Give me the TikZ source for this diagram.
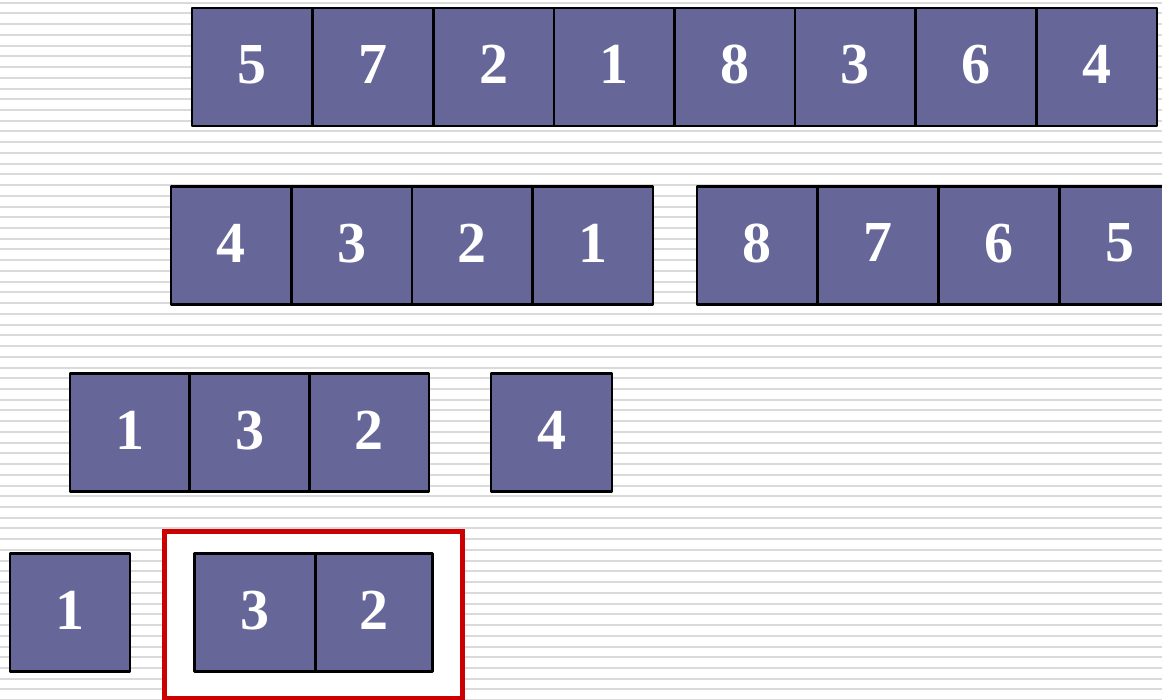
\documentclass[tikz,border=0pt]{standalone}
\usepackage{fontspec}
\setmainfont{Liberation Serif}
\definecolor{cellfill}{RGB}{102,102,153}
\definecolor{stripe}{RGB}{218,218,218}
\definecolor{framered}{RGB}{204,0,0}
\begin{document}
\begin{tikzpicture}[x=1pt,y=-1pt,
  cell/.style={draw=black, line width=2.6pt, fill=cellfill, text=white,
    font=\fontsize{58}{60}\selectfont\bfseries, inner sep=0pt,
    minimum height=118pt, text depth=5pt, line join=round},
  frame/.style={draw=framered, line width=5pt, fill=white, inner sep=0pt}]
\useasboundingbox (0,0) rectangle (1162,699);
\clip (0,0) rectangle (1162,699);
\fill[white] (0,0) rectangle (1162,699);
\foreach \i in {0,...,65}
  \draw[stripe, line width=2pt] (0,2.7+10.73*\i) -- (1162,2.7+10.73*\i);
% row 1
\foreach \v [count=\k from 0] in {5,7,2,1,8,3,6,4}
  \node[cell, minimum width=120.6pt] (a\k) at (192+60.3+120.6*\k,67) {\v};
% row 2
\foreach \v [count=\k from 0] in {4,3,2,1}
  \node[cell, minimum width=120.5pt] (b\k) at (171+60.25+120.5*\k,245.5) {\v};
\foreach \v [count=\k from 0] in {8,7,6,5}
  \node[cell, minimum width=120.75pt] (c\k) at (697+60.4+120.75*\k,245.5) {\v};
% row 3
\foreach \v [count=\k from 0] in {1,3,2}
  \node[cell, minimum width=119.7pt] (d\k) at (70+59.85+119.7*\k,432.5) {\v};
\node[cell, minimum width=121pt] (e0) at (551.5,432.5) {4};
% row 4
\node[cell, minimum width=120pt] (f0) at (70,612.5) {1};
\node[frame, minimum width=298pt, minimum height=167pt] (box) at (313,614.5) {};
\node[cell, minimum width=121.5pt] (g0) at (255,612.5) {3};
\node[cell, minimum width=116.5pt] (g1) at (374,612.5) {2};
\end{tikzpicture}
\end{document}
